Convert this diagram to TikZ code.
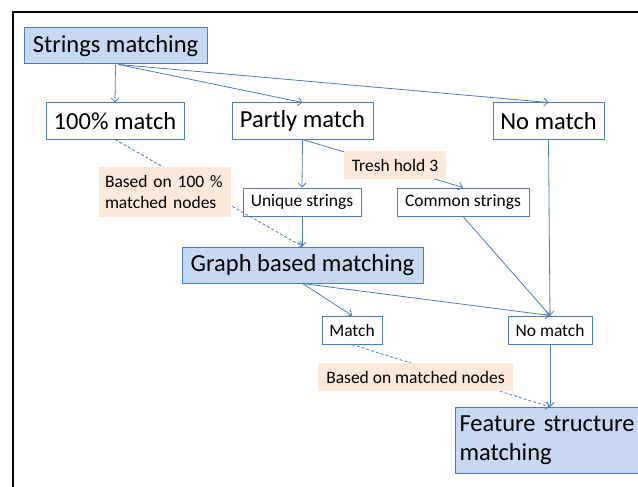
\documentclass[tikz,border=0pt]{standalone}
\usepackage{fontspec}
\setmainfont{Carlito}
\usetikzlibrary{arrows.meta}

\definecolor{edgeblue}{HTML}{4A7EBB}
\definecolor{boxfill}{HTML}{C6D9F1}
\definecolor{notefill}{HTML}{FDE9D9}

\begin{document}
\begin{tikzpicture}[
            x = 1pt, y = -1pt, % pixel like units, y going down
            > = {Straight Barb[length=4pt,width=8pt]}, % open arrow head
            line width = 0.8pt,
            font = \fontsize{17.5}{20.5}\selectfont
        ]

        \tikzstyle{step box}=[
            draw = edgeblue,
            fill = boxfill,
            line width = 1pt,
            minimum height = 36pt,
            inner sep = 0pt,
            font = \fontsize{24.5}{29}\selectfont
        ]
        \tikzstyle{case big}=[
            draw = edgeblue,
            fill = white,
            line width = 1pt,
            minimum height = 36pt,
            inner sep = 0pt,
            font = \fontsize{24.5}{29}\selectfont
        ]
        \tikzstyle{case small}=[
            draw = edgeblue,
            fill = white,
            line width = 1pt,
            minimum height = 28pt,
            inner sep = 0pt
        ]
        \tikzstyle{note}=[
            fill = notefill,
            inner sep = 0pt
        ]
        \tikzstyle{flow}=[->, draw = edgeblue]
        \tikzstyle{hint}=[->, draw = edgeblue, dashed, dash pattern = on 3pt off 2pt]

        \useasboundingbox (0,0) rectangle (638,487);
        \begin{scope}
            \clip (0,0) rectangle (638,487);
            \draw[line width = 2pt] (13,487) -- (13,12) -- (640,12);

            % nodes
            \node[step box, minimum width = 183pt] (strings) at (115.5,46) {Strings matching};
            \node[case big, minimum width = 138pt] (full) at (115,121) {100\% match};
            \node[case big, minimum width = 141pt] (partly) at (302.5,121) {Partly match};
            \node[case big, minimum width = 111pt] (nomatchA) at (548.5,121) {No match};
            \node[case small, minimum width = 118pt] (unique) at (302,202) {Unique strings};
            \node[case small, minimum width = 132pt] (common) at (463,202) {Common strings};
            \node[step box, minimum width = 241pt] (graph) at (302.5,265) {Graph based matching};
            \node[case small, minimum width = 60pt] (match) at (352,330) {Match};
            \node[case small, minimum width = 84pt] (nomatchB) at (550,330) {No match};
            \node[step box, anchor = north west, minimum width = 220pt, minimum height = 66pt,
                  text width = 212pt, align = left] (feature) at (455,407)
                  {Feature structure\\matching};

            % connectors
            \draw[flow] (strings.south) -- (full.north);
            \draw[flow] ([xshift=3pt]strings.south) -- (partly.north);
            \draw[flow] ([xshift=3pt]strings.south) -- (nomatchA.north);
            \draw[hint] (full.south) -- (graph.north);
            \draw[flow] (partly.south) -- (unique.north);
            \draw[flow] (partly.south) -- (common.north);
            \draw[flow] (unique.south) -- ([xshift=-0.5pt]graph.north);
            \draw[flow] (nomatchA.south) -- (nomatchB.north);
            \draw[flow] (common.south) -- (nomatchB.north);
            \draw[flow] (graph.south) -- (match.north);
            \draw[flow] (graph.south) -- (nomatchB.north);
            \draw[hint] (match.south) -- ([xshift=95pt]feature.north west);
            \draw[flow] (nomatchB.south) -- ([xshift=95pt]feature.north west);

            % notes on top of the connectors
            \node[note, minimum width = 132pt, minimum height = 50pt,
                  text width = 120pt, align = left] (fullnote) at (165,192)
                  {Based on 100 \%\\matched nodes};
            \node[note, minimum width = 102pt, minimum height = 28pt] (tresh) at (395,165) {Tresh hold 3};
            \node[note, minimum width = 195pt, minimum height = 28pt] (matchnote) at (415.5,377)
                  {Based on matched nodes};
        \end{scope}

  \end{tikzpicture}
\end{document}
